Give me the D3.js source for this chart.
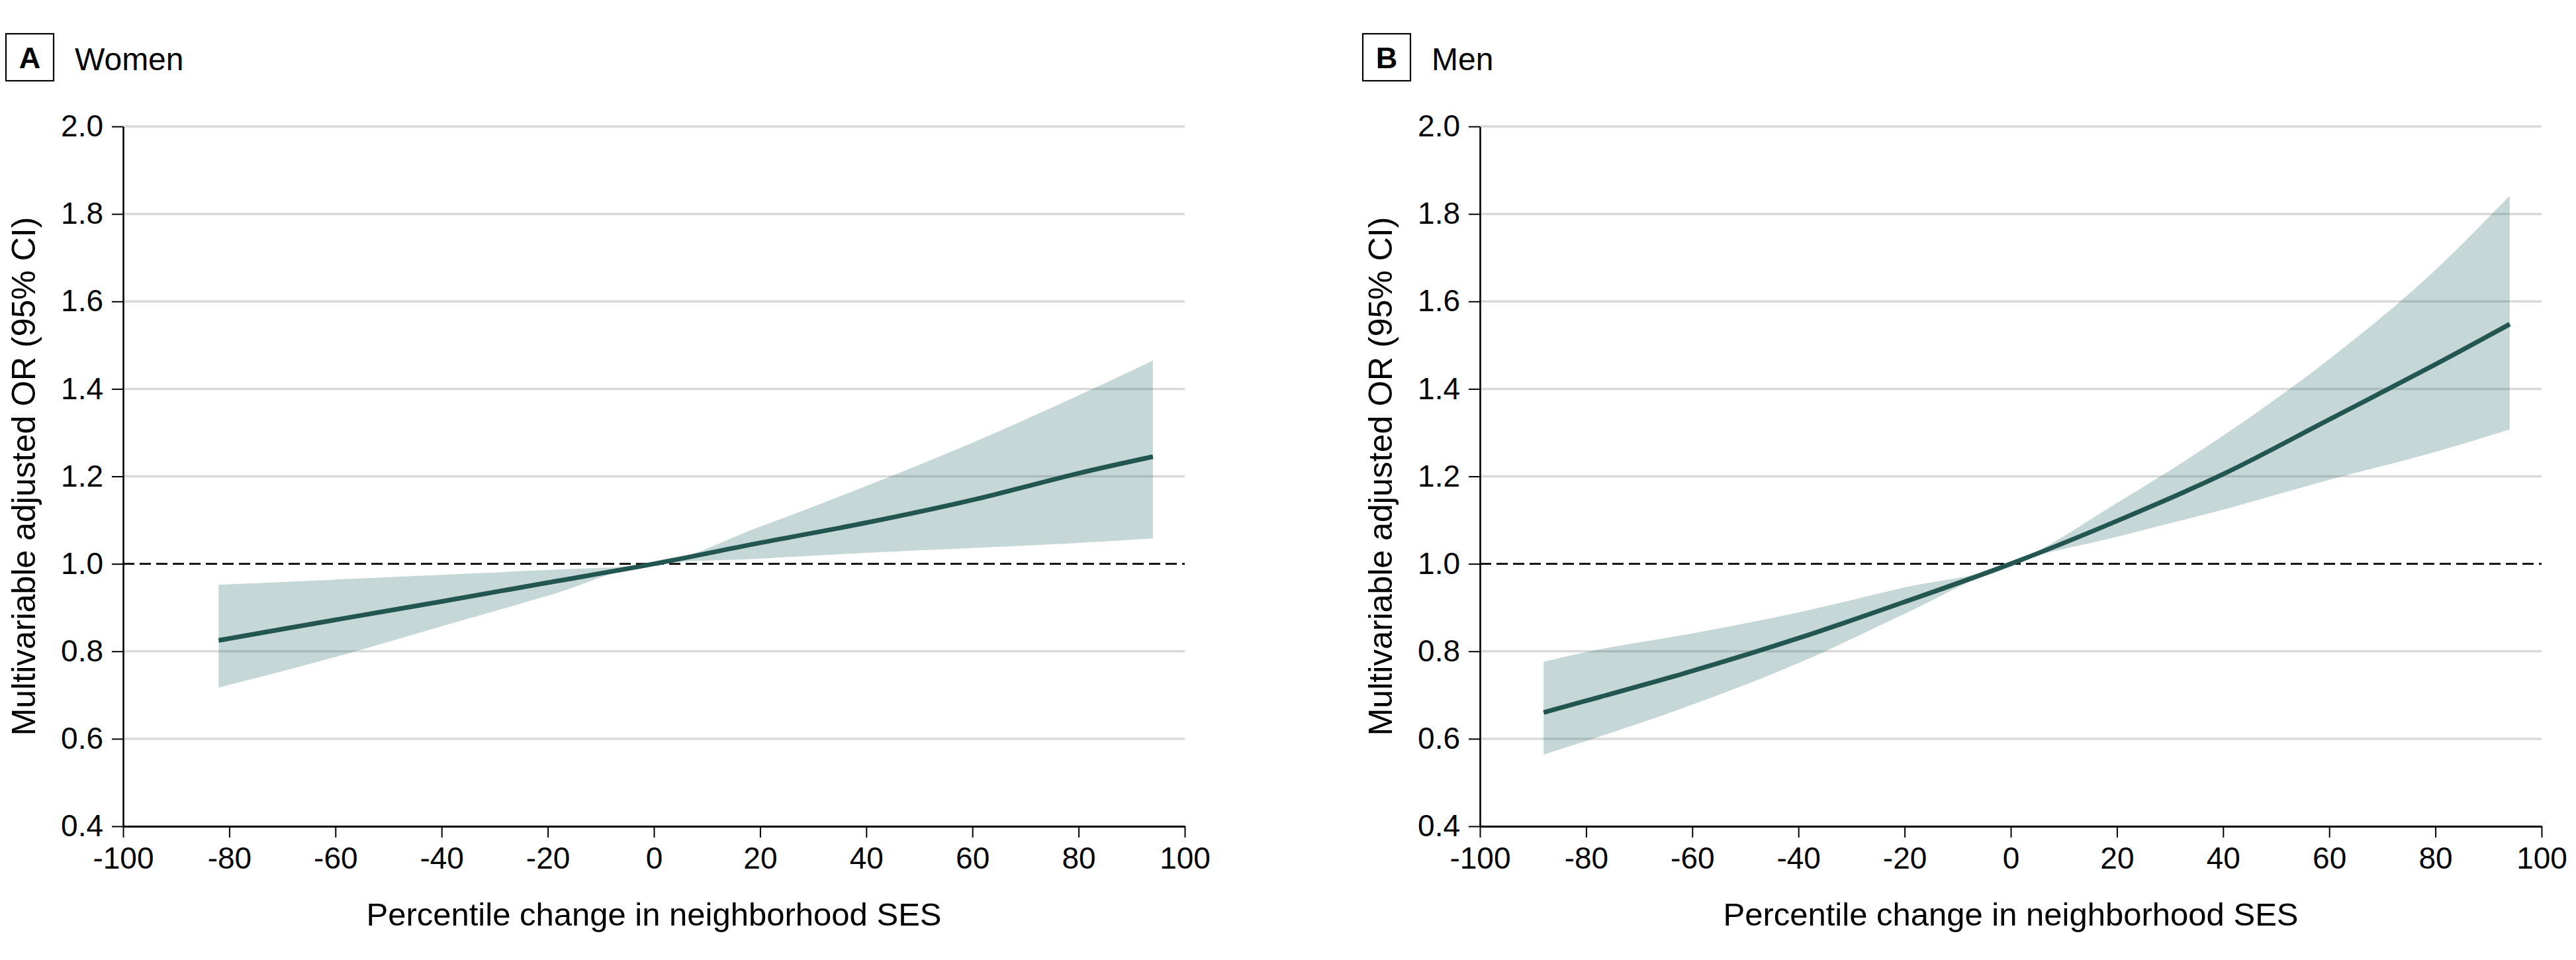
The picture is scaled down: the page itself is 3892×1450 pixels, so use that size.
<!DOCTYPE html>
<html>
<head>
<meta charset="utf-8">
<script src="https://cdn.jsdelivr.net/npm/d3@7"></script>
<style>
  html, body { margin: 0; padding: 0; background: #ffffff; }
  svg { display: block; }
  text { font-family: "Liberation Sans", Arial, sans-serif; fill: #000; }
</style>
</head>
<body>
<svg id="chart" width="3892" height="1450"></svg>
<script>
// ---------------- DATA ----------------
const panelLetters = ["A", "B"];
const panelTitles = ["Women", "Men"];
const xTicks = [-100, -80, -60, -40, -20, 0, 20, 40, 60, 80, 100];
const yTicks = [0.4, 0.6, 0.8, 1.0, 1.2, 1.4, 1.6, 1.8, 2.0];
const xLabel = "Percentile change in neighborhood SES";
const yLabel = "Multivariable adjusted OR (95% CI)";
const refValue = 1.0;

// Women
const womenX  = [-82, -60, -40, -20, 0, 20, 40, 60, 80, 94];
const womenOR = [0.825, 0.872, 0.914, 0.957, 1.0, 1.048, 1.094, 1.146, 1.207, 1.245];
const womenLo = [0.717, 0.787, 0.857, 0.927, 1.0, 1.012, 1.025, 1.036, 1.048, 1.058];
const womenHi = [0.952, 0.964, 0.975, 0.986, 1.0, 1.085, 1.178, 1.277, 1.385, 1.465];

// Men
const menX  = [-88, -80, -60, -40, -20, 0, 20, 40, 60, 80, 94];
const menOR = [0.660, 0.687, 0.755, 0.830, 0.913, 1.0, 1.098, 1.205, 1.330, 1.456, 1.548];
const menLo = [0.564, 0.595, 0.678, 0.773, 0.886, 1.0, 1.062, 1.124, 1.192, 1.256, 1.307];
const menHi = [0.776, 0.798, 0.841, 0.889, 0.946, 1.0, 1.139, 1.293, 1.468, 1.672, 1.842];

// ---------------- LAYOUT ----------------
const panels = [
  { letter: panelLetters[0], title: panelTitles[0], x: womenX, or: womenOR, lo: womenLo, hi: womenHi, offset: 0 },
  { letter: panelLetters[1], title: panelTitles[1], x: menX, or: menOR, lo: menLo, hi: menHi, offset: 2050 }
];
const plotLeft = 186, plotRight = 1790, plotTop = 191, plotBottom = 1248;

const svg = d3.select("#chart");

panels.forEach(p => {
  const g = svg.append("g").attr("transform", `translate(${p.offset},0)`);

  const x = d3.scaleLinear().domain([-100, 100]).range([plotLeft, plotRight]);
  const y = d3.scaleLinear().domain([0.4, 2.0]).range([plotBottom, plotTop]);

  // Panel label box + title
  g.append("rect")
    .attr("x", 9).attr("y", 51).attr("width", 72).attr("height", 71)
    .attr("fill", "none").attr("stroke", "#000").attr("stroke-width", 2.2);
  g.append("text")
    .attr("x", 45).attr("y", 103)
    .attr("text-anchor", "middle")
    .attr("font-size", 45).attr("font-weight", "bold")
    .text(p.letter);
  g.append("text")
    .attr("x", 113).attr("y", 106)
    .attr("font-size", 48)
    .text(p.title);

  // Gridlines
  g.append("g").selectAll("line")
    .data(yTicks.filter(v => v !== 0.4 && Math.abs(v - refValue) > 1e-9))
    .join("line")
    .attr("x1", plotLeft).attr("x2", plotRight)
    .attr("y1", d => y(d)).attr("y2", d => y(d))
    .attr("stroke", "#d9d9d9").attr("stroke-width", 3.5);

  // Data
  const pts = p.x.map((xv, i) => ({ x: xv, or: p.or[i], lo: p.lo[i], hi: p.hi[i] }));

  const area = d3.area()
    .x(d => x(d.x)).y0(d => y(d.lo)).y1(d => y(d.hi))
    .curve(d3.curveMonotoneX);
  g.append("path").datum(pts)
    .attr("d", area)
    .attr("fill", "#2a6b66").attr("fill-opacity", 0.27);

  // Reference dashed line
  g.append("line")
    .attr("x1", plotLeft).attr("x2", plotRight)
    .attr("y1", y(refValue)).attr("y2", y(refValue))
    .attr("stroke", "#000").attr("stroke-width", 2.6)
    .attr("stroke-dasharray", "17,8");

  const line = d3.line()
    .x(d => x(d.x)).y(d => y(d.or))
    .curve(d3.curveCatmullRom.alpha(0.5));
  g.append("path").datum(pts)
    .attr("d", line)
    .attr("fill", "none").attr("stroke", "#245651").attr("stroke-width", 7);

  // X axis
  const xAxis = d3.axisBottom(x).tickValues(xTicks)
    .tickSize(17).tickPadding(14).tickSizeOuter(0)
    .tickFormat(d => String(d));
  const gx = g.append("g").attr("transform", `translate(0,${plotBottom})`).call(xAxis);
  gx.select(".domain").attr("stroke", "#000").attr("stroke-width", 3.2);
  gx.selectAll(".tick line").attr("stroke", "#000").attr("stroke-width", 2);
  gx.selectAll(".tick text")
    .attr("font-size", 46)
    .attr("font-family", "\"Liberation Sans\", Arial, sans-serif")
    .attr("fill", "#000");

  // Y axis
  const yAxis = d3.axisLeft(y).tickValues(yTicks)
    .tickSize(17).tickPadding(13).tickSizeOuter(0)
    .tickFormat(d3.format(".1f"));
  const gy = g.append("g").attr("transform", `translate(${plotLeft},0)`).call(yAxis);
  gy.select(".domain").attr("stroke", "#000").attr("stroke-width", 2.6);
  gy.selectAll(".tick line").attr("stroke", "#000").attr("stroke-width", 2);
  gy.selectAll(".tick text")
    .attr("font-size", 46)
    .attr("font-family", "\"Liberation Sans\", Arial, sans-serif")
    .attr("fill", "#000");

  // Axis titles
  g.append("text")
    .attr("x", (plotLeft + plotRight) / 2).attr("y", 1398)
    .attr("text-anchor", "middle")
    .attr("font-size", 49)
    .text(xLabel);
  g.append("text")
    .attr("transform", `translate(53,${(plotTop + plotBottom) / 2}) rotate(-90)`)
    .attr("text-anchor", "middle")
    .attr("font-size", 50)
    .text(yLabel);
});
</script>
</body>
</html>
